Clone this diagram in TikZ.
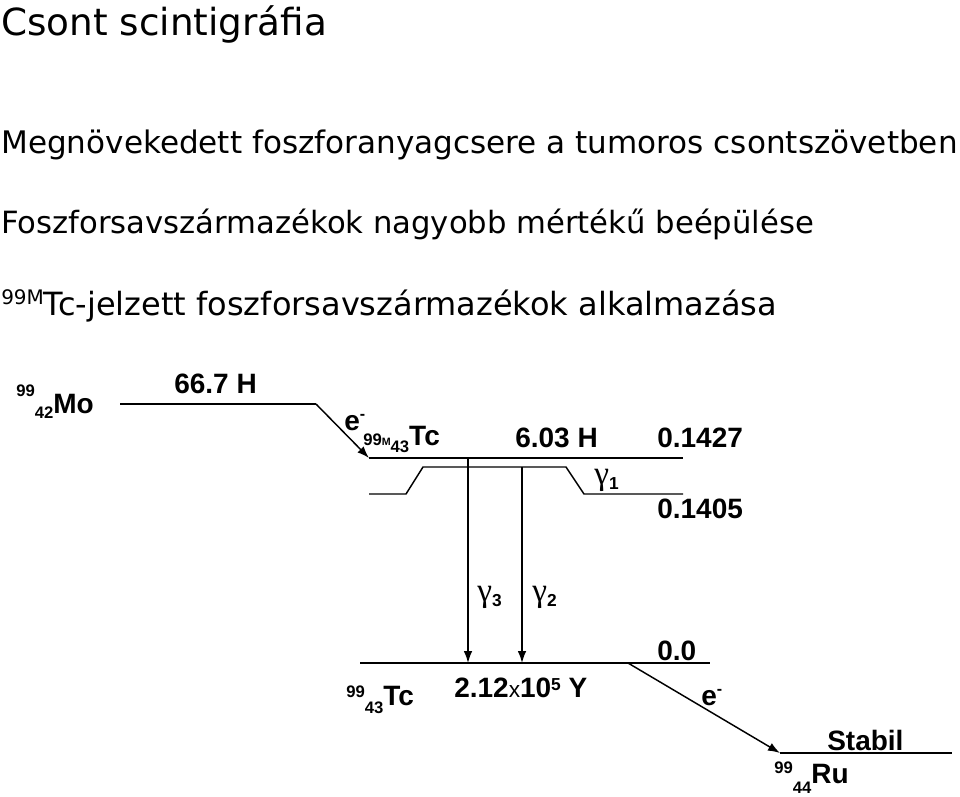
\documentclass[tikz,border=0pt]{standalone}
\usepackage{fontspec}
\setmainfont{DejaVu Sans}
\newfontfamily\diagfont{Liberation Sans}
\newfontfamily\greekfont{Liberation Serif}
\usetikzlibrary{arrows.meta}

\tikzset{
  level/.style={line width=1.1pt},
  decay/.style={line width=1.1pt,-{Latex[length=9pt,width=6.5pt]}},
  head/.style={anchor=base west,inner sep=0pt,font=\fontsize{24}{24}\selectfont},
  lbl/.style={anchor=base west,inner sep=0pt,font=\diagfont\bfseries\fontsize{21}{21}\selectfont},
}
% isotope: mass up, atomic number down
\newcommand\iso[5]{\raisebox{#4}{\fontsize{12.5}{12.5}\selectfont #1}\raisebox{-#5}{\fontsize{12.5}{12.5}\selectfont #2}#3}
\newcommand\gam[1]{{\greekfont\mdseries\fontsize{25}{25}\selectfont γ}\raisebox{-4pt}{\fontsize{13}{13}\selectfont #1}}

\begin{document}
\begin{tikzpicture}[x=0.75pt,y=-0.75pt]
  \useasboundingbox (0,0) rectangle (960,796);

  % headings
  \node[head,font=\fontsize{28}{28}\selectfont] (title) at (1,35) {Csont scintigráfia};
  \node[head,font=\fontsize{23.3}{23.3}\selectfont] (line1) at (1,153) {Megnövekedett foszforanyagcsere a tumoros csontszövetben};
  \node[head,font=\fontsize{23}{23}\selectfont] (line2) at (1,233) {Foszforsavszármazékok nagyobb mértékű beépülése};
  \node[head] (line3) at (1,315) {\raisebox{8pt}{\fontsize{15}{15}\selectfont 99M}Tc-jelzett foszforsavszármazékok alkalmazása};

  % levels
  \coordinate (mo1) at (120,404);
  \coordinate (mo2) at (316,404);
  \coordinate (tcm1) at (369,458);
  \coordinate (tcm2) at (683,458);
  \coordinate (la1) at (369,494);
  \coordinate (la2) at (406,494);
  \coordinate (la3) at (423,467);
  \coordinate (la4) at (566,467);
  \coordinate (la5) at (584,494);
  \coordinate (la6) at (683,494);
  \coordinate (tc1) at (360,663);
  \coordinate (tc2) at (710,663);
  \coordinate (ru1) at (780,753);
  \coordinate (ru2) at (952,753);
  \coordinate (g3a) at (468,458);
  \coordinate (g3b) at (468,663);
  \coordinate (g2a) at (522,467);
  \coordinate (g2b) at (522,663);
  \coordinate (be) at (628,663);

  \foreach \from/\to in {mo1/mo2,tcm1/tcm2,tc1/tc2,ru1/ru2}
    \draw[level] (\from) -- (\to);
  \draw[level] (la1) -- (la2) -- (la3) -- (la4) -- (la5) -- (la6);

  \foreach \from/\to in {mo2/tcm1,g3a/g3b,g2a/g2b,be/ru1}
    \draw[decay] (\from) -- (\to);

  % labels
  \node[lbl] (mo) at (16,413) {\iso{99}{42}{Mo}{12.75pt}{3.75pt}};
  \node[lbl] (t667) at (174,393) {66.7 H};
  \node[lbl] (e1) at (344,430) {e\raisebox{8pt}{\fontsize{12}{12}\selectfont -}};
  \node[lbl] (tcm) at (363,445) {\iso{99{\fontsize{8}{8}\selectfont M}}{43}{Tc}{0pt}{5.25pt}};
  \node[lbl] (t603) at (515,447) {6.03 H};
  \node[lbl] (en1) at (657,447) {0.1427};
  \node[lbl] (en2) at (657,518) {0.1405};
  \node[lbl] (gam1) at (594,484) {\gam{1}};
  \node[lbl] (gam3) at (477,601) {\gam{3}};
  \node[lbl] (gam2) at (532,601) {\gam{2}};
  \node[lbl] (en0) at (657,660) {0.0};
  \node[lbl] (tc) at (346,705) {\iso{99}{43}{Tc}{6pt}{6pt}};
  \node[lbl] (t212) at (454,697) {2.12{\mdseries\fontsize{17}{17}\selectfont x}10\raisebox{5.25pt}{\fontsize{13}{13}\selectfont 5} Y};
  \node[lbl] (e2) at (701,705) {e\raisebox{8pt}{\fontsize{12}{12}\selectfont -}};
  \node[lbl] (stab) at (827,750) {Stabil};
  \node[lbl] (ru) at (774,783) {\iso{99}{44}{Ru}{7.5pt}{7.5pt}};

\end{tikzpicture}
\end{document}
